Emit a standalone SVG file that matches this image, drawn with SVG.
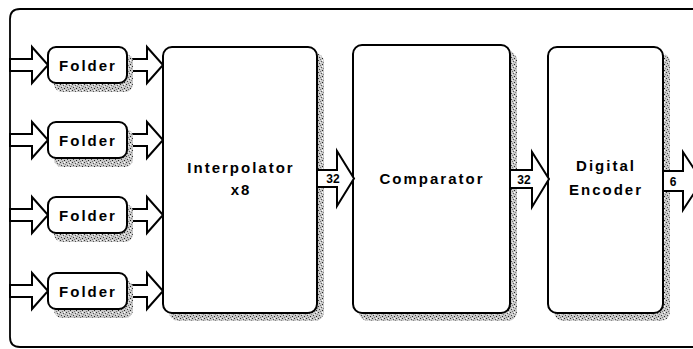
<svg xmlns="http://www.w3.org/2000/svg" width="693" height="349" viewBox="0 0 693 349">
<defs>
<pattern id="stip" width="6" height="6" patternUnits="userSpaceOnUse">
<rect width="6" height="6" fill="#c8c8c8"/>
<rect x="0" y="0" width="1" height="1" fill="#333"/>
<rect x="3" y="1" width="1" height="1" fill="#555"/>
<rect x="1" y="3" width="1" height="1" fill="#444"/>
<rect x="4" y="4" width="1" height="1" fill="#222"/>
<rect x="2" y="5" width="1" height="1" fill="#777"/>
<rect x="5" y="2" width="1" height="1" fill="#888"/>
<rect x="2" y="2" width="1" height="1" fill="#eee"/>
<rect x="4" y="0" width="1" height="1" fill="#fff"/>
</pattern>
</defs>
<style>
.box{fill:#fff;stroke:#000;stroke-width:2}
.shadow{fill:url(#stip)}
.arrow{fill:#fff;stroke:#000;stroke-width:2;stroke-linejoin:miter}
.t{font-family:"Liberation Sans",Arial,sans-serif;font-weight:bold;font-size:15px;letter-spacing:2px;fill:#000;text-anchor:middle}
.n{font-family:"Liberation Sans",Arial,sans-serif;font-weight:bold;font-size:12px;fill:#000;text-anchor:middle}
.frame{fill:none;stroke:#000;stroke-width:1.8}
</style>
<rect width="693" height="349" fill="#fff"/>
<path class="frame" d="M693,9 H20 Q10,9 10,19 V337 Q10,347 20,347 H693"/>

<g id="connectors">
<g id="in1"><polygon class="arrow" points="10,59 32,59 32,47 48,65 32,83 32,71 10,71"/></g>
<g id="in2"><polygon class="arrow" points="10,134 32,134 32,122 48,140 32,158 32,146 10,146"/></g>
<g id="in3"><polygon class="arrow" points="10,209 32,209 32,197 48,215 32,233 32,221 10,221"/></g>
<g id="in4"><polygon class="arrow" points="10,285 32,285 32,273 48,291 32,309 32,297 10,297"/></g>
<g id="out1"><polygon class="arrow" points="127,59 147,59 147,47 163,65 147,83 147,71 127,71"/></g>
<g id="out2"><polygon class="arrow" points="127,134 147,134 147,122 163,140 147,158 147,146 127,146"/></g>
<g id="out3"><polygon class="arrow" points="127,209 147,209 147,197 163,215 147,233 147,221 127,221"/></g>
<g id="out4"><polygon class="arrow" points="127,285 147,285 147,273 163,291 147,309 147,297 127,297"/></g>
</g>

<g id="folder1"><rect class="shadow" x="54" y="54" width="79" height="38" rx="8"/><rect class="box" x="48" y="47" width="79" height="36" rx="8"/><text class="t" x="88" y="70.5">Folder</text></g>
<g id="folder2"><rect class="shadow" x="54" y="129" width="79" height="38" rx="8"/><rect class="box" x="48" y="122" width="79" height="36" rx="8"/><text class="t" x="88" y="145.5">Folder</text></g>
<g id="folder3"><rect class="shadow" x="54" y="204" width="79" height="38" rx="8"/><rect class="box" x="48" y="197" width="79" height="36" rx="8"/><text class="t" x="88" y="220.5">Folder</text></g>
<g id="folder4"><rect class="shadow" x="54" y="280" width="79" height="38" rx="8"/><rect class="box" x="48" y="273" width="79" height="36" rx="8"/><text class="t" x="88" y="296.5">Folder</text></g>

<g id="interpolator"><rect class="shadow" x="169" y="53" width="155" height="268" rx="9"/><rect class="box" x="163" y="47" width="154" height="266" rx="9"/><text class="t" x="241" y="173">Interpolator</text><text class="t" x="241" y="195">x8</text></g>
<g id="comparator"><rect class="shadow" x="359" y="51" width="158" height="270" rx="9"/><rect class="box" x="353" y="45" width="157" height="268" rx="9"/><text class="t" x="432" y="184">Comparator</text></g>
<g id="encoder"><rect class="shadow" x="554" y="53" width="116" height="268" rx="9"/><rect class="box" x="548" y="47" width="115" height="266" rx="9"/><text class="t" x="606" y="171">Digital</text><text class="t" x="606" y="195">Encoder</text></g>

<g id="connectors2">
<g id="bus1"><polygon class="arrow" points="317,170 337,170 337,151 354,178.5 337,206 337,187 317,187"/><text class="n" x="333" y="183">32</text></g>
<g id="bus2"><polygon class="arrow" points="510,170 532,170 532,152 549,179 532,207 532,188 510,188"/><text class="n" x="524" y="184">32</text></g>
<g id="bus3"><polygon class="arrow" points="663,171 683,171 683,152 702,181 683,210 683,191 663,191"/><text class="n" x="673" y="186">6</text></g>
</g>
</svg>
